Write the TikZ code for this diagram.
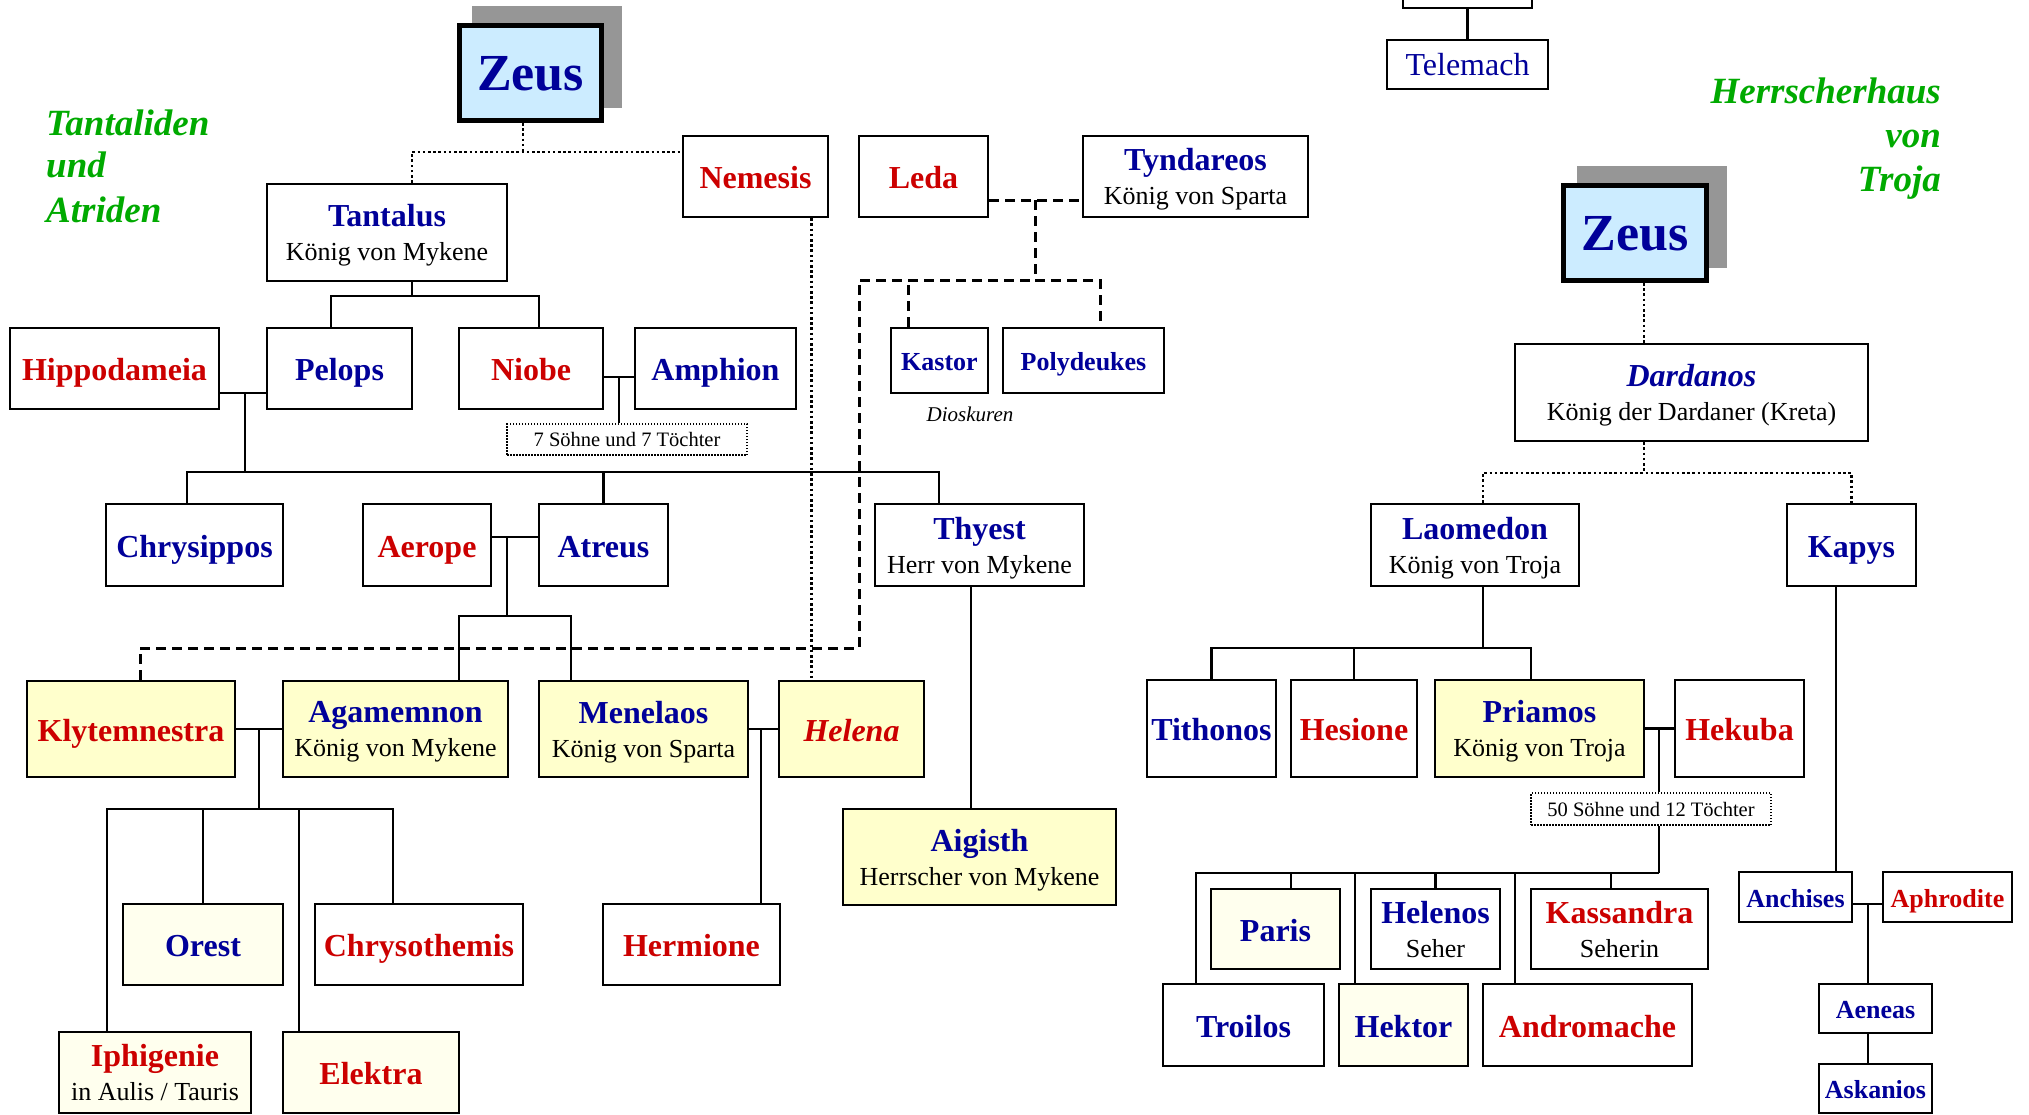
\documentclass[tikz,border=0pt]{standalone}
\usepackage{fontspec}
\setmainfont{Liberation Serif}
\definecolor{nameblue}{RGB}{0,0,153}
\definecolor{namered}{RGB}{204,0,0}
\definecolor{titlegreen}{RGB}{0,170,0}
\definecolor{zeusfill}{RGB}{204,236,255}
\definecolor{zeusshadow}{RGB}{150,150,150}
\definecolor{heroyellow}{RGB}{255,255,204}
\definecolor{paleyellow}{RGB}{255,255,238}
\newcommand{\bname}[1]{{\fontsize{32}{34}\selectfont\bfseries\color{nameblue}#1}}
\newcommand{\rname}[1]{{\fontsize{32}{34}\selectfont\bfseries\color{namered}#1}}
\newcommand{\bsmall}[1]{{\fontsize{26}{34}\selectfont\bfseries\color{nameblue}#1}}
\newcommand{\rsmall}[1]{{\fontsize{26}{34}\selectfont\bfseries\color{namered}#1}}
\tikzset{
  person/.style={draw, line width=2.4pt, fill=white, inner sep=0pt, align=center,
    font=\fontsize{26}{34}\selectfont},
  oneline/.style={text height=24pt, text depth=0pt},
  smalline/.style={text height=20pt, text depth=0pt},
  twoline/.style={text depth=-5pt},
  heirbox/.style={fill=heroyellow},
  palebox/.style={fill=paleyellow},
  zeus/.style={draw, line width=5pt, fill=zeusfill, inner sep=0pt,
    text height=35pt, text depth=0pt, font=\fontsize{52}{56}\selectfont\bfseries, text=nameblue},
  note/.style={draw, line width=1.5pt, dash pattern=on 1.5pt off 1.5pt, fill=white, inner sep=0pt,
    font=\fontsize{20.5}{24}\selectfont, text height=14pt, text depth=0pt},
  kin/.style={line width=2.4pt},
  godline/.style={line width=2.6pt, dash pattern=on 2.6pt off 2.6pt},
  dashline/.style={line width=3pt, dash pattern=on 10pt off 6pt},
  title/.style={font=\fontsize{37}{43}\selectfont\bfseries\itshape, text=titlegreen, inner sep=0pt},
}
\begin{document}
\begin{tikzpicture}[x=1pt, y=-1pt]
\useasboundingbox (0,0) rectangle (2029,1114);
\clip (0,0) rectangle (2029,1114);
\fill[white] (0,0) rectangle (2029,1114);

% Tantaliden und Atriden
\node[title, anchor=base west] (tantaliden) at (46,135) {Tantaliden};
\node[title, anchor=base west] (tund) at (46,177) {und};
\node[title, anchor=base west] (atriden) at (46,222) {Atriden};

\fill[zeusshadow] (472,6) rectangle (622,108);
\node[zeus, minimum width=142pt, minimum height=95pt] (zeusL) at (530.5,73) {Zeus};

\node[person, oneline, minimum width=145pt, minimum height=81pt] (nemesis) at (755.5,176.5) {\rname{Nemesis}};
\node[person, oneline, minimum width=129pt, minimum height=81pt] (leda) at (923.5,176.5) {\rname{Leda}};
\node[person, twoline, minimum width=225pt, minimum height=81pt] (tyndareos) at (1195.5,176.5) {\bname{Tyndareos}\\König von Sparta};
\node[person, twoline, minimum width=240pt, minimum height=97pt] (tantalus) at (387,232.5) {\bname{Tantalus}\\König von Mykene};

\node[person, oneline, minimum width=209pt, minimum height=81pt] (hippodameia) at (114.5,368.5) {\rname{Hippodameia}};
\node[person, oneline, minimum width=145pt, minimum height=81pt] (pelops) at (339.5,368.5) {\bname{Pelops}};
\node[person, oneline, minimum width=144pt, minimum height=81pt] (niobe) at (531,368.5) {\rname{Niobe}};
\node[person, oneline, minimum width=161pt, minimum height=81pt] (amphion) at (715.5,368.5) {\bname{Amphion}};
\node[note, minimum width=240pt, minimum height=31pt] (siebenkinder) at (627,439.5) {7 Söhne und 7 Töchter};

\node[person, smalline, minimum width=97pt, minimum height=65pt] (kastor) at (939.5,360.5) {\bsmall{Kastor}};
\node[person, smalline, minimum width=161pt, minimum height=65pt] (polydeukes) at (1083.5,360.5) {\bsmall{Polydeukes}};
\node[font=\fontsize{21}{24}\selectfont\itshape, anchor=base, inner sep=0pt] (dioskuren) at (970,421) {Dioskuren};

\node[person, oneline, minimum width=177pt, minimum height=82pt] (chrysippos) at (194.5,545) {\bname{Chrysippos}};
\node[person, oneline, minimum width=128pt, minimum height=82pt] (aerope) at (427,545) {\rname{Aerope}};
\node[person, oneline, minimum width=129pt, minimum height=82pt] (atreus) at (603.5,545) {\bname{Atreus}};
\node[person, twoline, minimum width=209pt, minimum height=82pt] (thyest) at (979.5,545) {\bname{Thyest}\\Herr von Mykene};

\node[person, oneline, heirbox, minimum width=208pt, minimum height=96pt] (klytemnestra) at (131,729) {\rname{Klytemnestra}};
\node[person, twoline, heirbox, minimum width=225pt, minimum height=96pt] (agamemnon) at (395.5,729) {\bname{Agamemnon}\\König von Mykene};
\node[person, twoline, heirbox, minimum width=209pt, minimum height=96pt] (menelaos) at (643.5,729) {\bname{Menelaos}\\König von Sparta};
\node[person, oneline, heirbox, minimum width=145pt, minimum height=96pt] (helena) at (851.5,729) {\rname{\itshape Helena}};
\node[person, twoline, heirbox, minimum width=273pt, minimum height=96pt] (aigisth) at (979.5,857) {\bname{Aigisth}\\Herrscher von Mykene};

\node[person, oneline, palebox, minimum width=160pt, minimum height=81pt] (orest) at (203,944.5) {\bname{Orest}};
\node[person, oneline, minimum width=208pt, minimum height=81pt] (chrysothemis) at (419,944.5) {\rname{Chrysothemis}};
\node[person, oneline, minimum width=177pt, minimum height=81pt] (hermione) at (691.5,944.5) {\rname{Hermione}};
\node[person, twoline, palebox, minimum width=192pt, minimum height=81pt] (iphigenie) at (155,1072.5) {\rname{Iphigenie}\\in Aulis / Tauris};
\node[person, oneline, palebox, minimum width=176pt, minimum height=81pt] (elektra) at (371,1072.5) {\rname{Elektra}};

% Herrscherhaus von Troja
\node[title, anchor=base east] (herrscherhaus) at (1941,103) {Herrscherhaus};
\node[title, anchor=base east] (tvon) at (1941,147) {von};
\node[title, anchor=base east] (troja) at (1941,191) {Troja};

\node[person, minimum width=129pt, minimum height=60pt] (topcut) at (1467.5,-22) {};
\node[person, text height=22pt, text depth=0pt, minimum width=161pt, minimum height=49pt] (telemach) at (1467.5,64.5) {\fontsize{32}{34}\selectfont\color{nameblue}Telemach};

\fill[zeusshadow] (1577,166) rectangle (1727,268);
\node[zeus, minimum width=143pt, minimum height=95pt] (zeusR) at (1635,233) {Zeus};

\node[person, twoline, minimum width=353pt, minimum height=97pt] (dardanos) at (1691.5,392.5) {\bname{\itshape Dardanos}\\König der Dardaner (Kreta)};
\node[person, twoline, minimum width=208pt, minimum height=82pt] (laomedon) at (1475,545) {\bname{Laomedon}\\König von Troja};
\node[person, oneline, minimum width=129pt, minimum height=82pt] (kapys) at (1851.5,545) {\bname{Kapys}};

\node[person, oneline, minimum width=129pt, minimum height=97pt] (tithonos) at (1211.5,728.5) {\bname{Tithonos}};
\node[person, oneline, minimum width=126pt, minimum height=97pt] (hesione) at (1354,728.5) {\rname{Hesione}};
\node[person, twoline, heirbox, minimum width=209pt, minimum height=97pt] (priamos) at (1539.5,728.5) {\bname{Priamos}\\König von Troja};
\node[person, oneline, minimum width=129pt, minimum height=97pt] (hekuba) at (1739.5,728.5) {\rname{Hekuba}};
\node[note, minimum width=240pt, minimum height=32pt] (fuenfzigkinder) at (1651,809) {50 Söhne und 12 Töchter};

\node[person, oneline, palebox, minimum width=129pt, minimum height=80pt] (paris) at (1275.5,929) {\bname{Paris}};
\node[person, twoline, minimum width=129pt, minimum height=80pt] (helenos) at (1435.5,929) {\bname{Helenos}\\Seher};
\node[person, twoline, minimum width=177pt, minimum height=80pt] (kassandra) at (1619.5,929) {\rname{Kassandra}\\Seherin};
\node[person, oneline, minimum width=161pt, minimum height=82pt] (troilos) at (1243.5,1025) {\bname{Troilos}};
\node[person, oneline, palebox, minimum width=129pt, minimum height=82pt] (hektor) at (1403.5,1025) {\bname{Hektor}};
\node[person, oneline, minimum width=209pt, minimum height=82pt] (andromache) at (1587.5,1025) {\rname{Andromache}};

\node[person, smalline, minimum width=113pt, minimum height=50pt] (anchises) at (1795.5,897) {\bsmall{Anchises}};
\node[person, smalline, minimum width=129pt, minimum height=50pt] (aphrodite) at (1947.5,897) {\rsmall{Aphrodite}};
\node[person, smalline, minimum width=113pt, minimum height=49pt] (aeneas) at (1875.5,1008.5) {\bsmall{Aeneas}};
\node[person, smalline, minimum width=113pt, minimum height=49pt] (askanios) at (1875.5,1088.5) {\bsmall{Askanios}};

% Verbindungen links
\coordinate (zj) at (523,152);
\draw[godline] (zeusL.south -| zj) -- (zj);
\draw[godline] ([xshift=25pt]tantalus.north) |- (zj) -- (zj -| nemesis.west);
\draw[godline] ([xshift=56pt]nemesis.south) -- ([xshift=56pt]nemesis.south |- helena.north);

\coordinate (tk) at (412,296);
\draw[kin] (tantalus.south -| tk) -- (tk);
\draw[kin] ([xshift=-8.5pt]pelops.north) |- (tk) -| ([xshift=8pt]niobe.north);

\coordinate (hp) at (245,393);
\coordinate (pk) at (245,472);
\draw[kin] (hippodameia.east |- hp) -- (pelops.west |- hp);
\draw[kin] (hp) -- (pk);
\draw[kin] ([xshift=-7.5pt]chrysippos.north) |- (pk) -| ([xshift=-40.5pt]thyest.north);
\draw[kin] (atreus.north) -- (atreus.north |- pk);

\coordinate (na) at (619,377);
\draw[kin] (niobe.east |- na) -- (amphion.west |- na);
\draw[kin] (na) -- (na |- siebenkinder.north);

\coordinate (lt) at (1035,200);
\coordinate (ltk) at (1035,280);
\coordinate (kd) at (859,648);
\draw[dashline] (leda.east |- lt) -- (tyndareos.west |- lt);
\draw[dashline] (lt) -- (ltk);
\draw[dashline] ([xshift=-31.5pt]kastor.north) -- ([xshift=-31.5pt]kastor.north |- ltk);
\draw[dashline] (ltk) -| ([xshift=16.5pt]polydeukes.north);
\draw[dashline] ([xshift=9pt]klytemnestra.north) |- (kd) |- (ltk);

\coordinate (aa) at (507,537);
\coordinate (ak) at (507,616);
\draw[kin] (aerope.east |- aa) -- (atreus.west |- aa);
\draw[kin] (aa) -- (ak);
\draw[kin] ([xshift=63.5pt]agamemnon.north) |- (ak) -| ([xshift=-72.5pt]menelaos.north);

\draw[kin] ([xshift=-8.5pt]thyest.south) -- ([xshift=-8.5pt]aigisth.north);

\coordinate (ka) at (259,729);
\coordinate (kk) at (259,809);
\draw[kin] (klytemnestra.east) -- (agamemnon.west);
\draw[kin] (ka) -- (kk);
\draw[kin] ([xshift=-48pt]iphigenie.north) |- (kk) -| ([xshift=-26pt]chrysothemis.north);
\draw[kin] (orest.north) -- (orest.north |- kk);
\draw[kin] ([xshift=-72pt]elektra.north) -- ([xshift=-72pt]elektra.north |- kk);

\coordinate (mh) at (761,729);
\draw[kin] (menelaos.east) -- (helena.west);
\draw[kin] (mh) -- (mh |- hermione.north);

% Verbindungen rechts
\draw[kin] (topcut.south) -- (telemach.north);
\draw[godline] ([xshift=9pt]zeusR.south) -- ([xshift=9pt]zeusR.south |- dardanos.north);
\coordinate (dk) at (1644,473);
\draw[godline] (dardanos.south -| dk) -- (dk);
\draw[godline] ([xshift=8pt]laomedon.north) |- (dk) -| (kapys.north);

\coordinate (lk) at (1483,648);
\draw[kin] (laomedon.south -| lk) -- (lk);
\draw[kin] (tithonos.north) |- (lk) -| ([xshift=-8.5pt]priamos.north);
\draw[kin] (hesione.north) -- (hesione.north |- lk);

\coordinate (ph) at (1659,728.5);
\coordinate (pc) at (1659,873);
\draw[kin] (priamos.east) -- (hekuba.west);
\draw[kin] (ph) -- (ph |- fuenfzigkinder.north);
\draw[kin] (fuenfzigkinder.south -| ph) -- (pc);
\draw[kin] ([xshift=-47.5pt]troilos.north) |- (pc);
\foreach \kid/\dx in {paris/15.5, hektor/-48.5, helenos/0, andromache/-72.5, kassandra/-8.5}
  \draw[kin] ([xshift=\dx pt]\kid.north) -- ([xshift=\dx pt]\kid.north |- pc);

\draw[kin] ([xshift=-15.5pt]kapys.south) -- ([xshift=-15.5pt]kapys.south |- anchises.north);
\coordinate (ap) at (1868,904);
\draw[kin] (anchises.east |- ap) -- (aphrodite.west |- ap);
\draw[kin] (ap) -- (ap |- aeneas.north);
\draw[kin] (aeneas.south -| ap) -- (ap |- askanios.north);
\end{tikzpicture}
\end{document}
